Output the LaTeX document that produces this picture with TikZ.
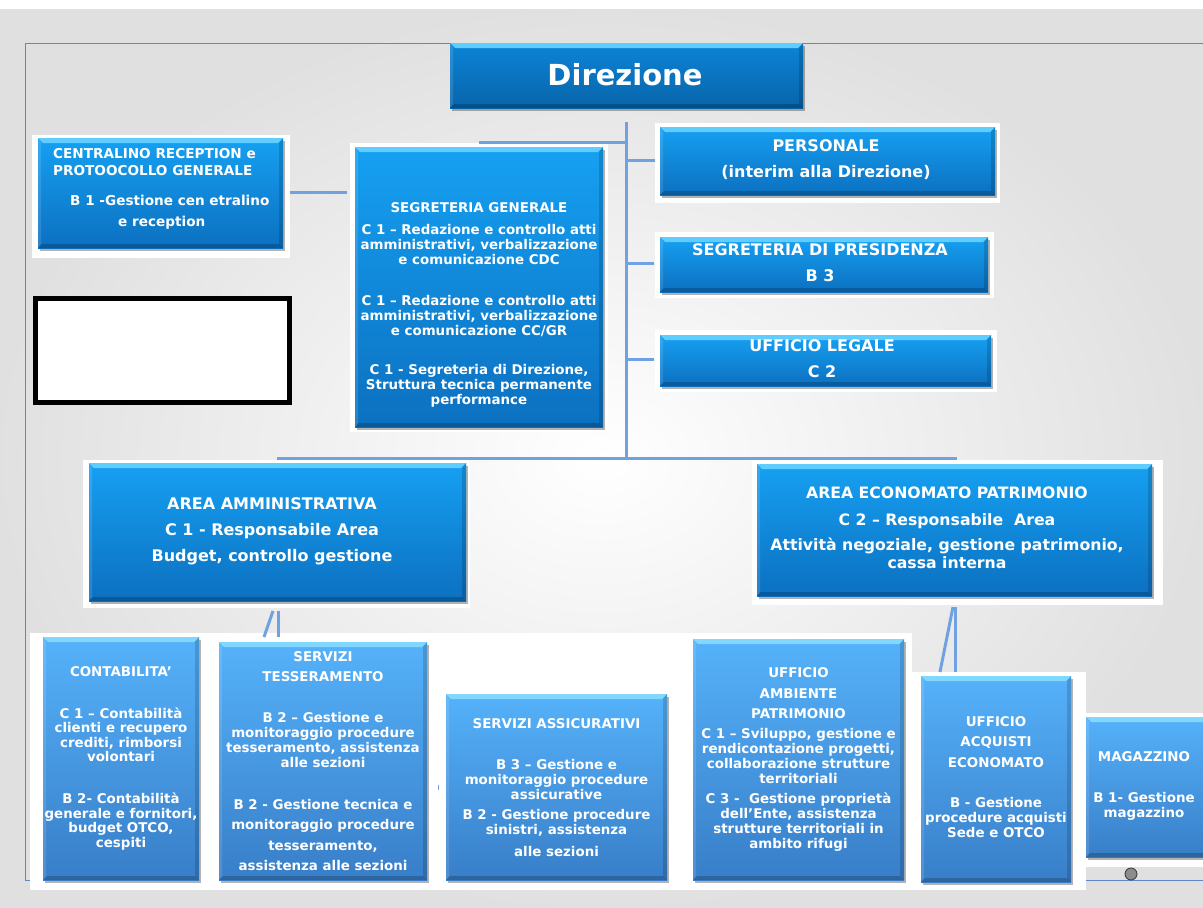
\documentclass[tikz,border=0pt]{standalone}
\usepackage{fontspec}
\setmainfont{DejaVu Sans}
\usetikzlibrary{shadows,calc}
\definecolor{upT}{RGB}{22,160,242}
\definecolor{upB}{RGB}{12,112,192}
\definecolor{upL}{RGB}{95,205,255}
\definecolor{loT}{RGB}{85,178,250}
\definecolor{loB}{RGB}{56,126,200}
\definecolor{loL}{RGB}{130,215,255}
\definecolor{dirT}{RGB}{12,132,215}
\definecolor{dirB}{RGB}{8,100,170}
\definecolor{connc}{RGB}{112,162,226}
\definecolor{framec}{RGB}{95,135,205}
\newcommand{\bevelpp}[1]{%
  \fill[#1] (path picture bounding box.north west) -- (path picture bounding box.north east) -- ([xshift=-5pt,yshift=-5pt]path picture bounding box.north east) -- ([xshift=5pt,yshift=-5pt]path picture bounding box.north west) -- cycle;
  \fill[black,opacity=.15] (path picture bounding box.north east) -- (path picture bounding box.south east) -- ([xshift=-4pt,yshift=4pt]path picture bounding box.south east) -- ([xshift=-4pt,yshift=-5pt]path picture bounding box.north east) -- cycle;
  \fill[black,opacity=.2] (path picture bounding box.south west) -- (path picture bounding box.south east) -- ([xshift=-4pt,yshift=4pt]path picture bounding box.south east) -- ([xshift=4pt,yshift=4pt]path picture bounding box.south west) -- cycle;
  \fill[white,opacity=.12] (path picture bounding box.north west) -- (path picture bounding box.south west) -- ([xshift=3pt,yshift=4pt]path picture bounding box.south west) -- ([xshift=3pt,yshift=-5pt]path picture bounding box.north west) -- cycle;}
\tikzset{
  x=1pt,y=-1pt,
  boxbase/.style={rectangle, inner sep=0pt, draw=none,
    drop shadow={shadow xshift=1.5pt, shadow yshift=-3pt, fill=black, opacity=.3}},
  upbox/.style={boxbase, top color=upT, bottom color=upB, path picture={\bevelpp{upL}}},
  lobox/.style={boxbase, top color=loT, bottom color=loB, path picture={\bevelpp{loL}}},
  dirbox/.style={boxbase, top color=dirT, bottom color=dirB, path picture={\bevelpp{upL}}},
  txt/.style={text=white, align=center, inner sep=0pt, font=\bfseries\fontsize{13.4}{15}\selectfont},
  bigtxt/.style={txt, font=\bfseries\fontsize{16}{26}\selectfont},
  conn/.style={draw=connc, line width=3pt},
  halo/.style={fill=white},
}
\begin{document}
\begin{tikzpicture}
\useasboundingbox (0,0) rectangle (1203,908);
% background
\fill[white] (0,0) rectangle (1203,908);
\shade[inner color=white, outer color=black!12] (0,9) rectangle (1203,908);
% frame
\draw[framec, line width=1pt] (1203,43) -- (25,43) -- (25,880) -- (1203,880);
% white halos
\fill[halo] (32,135) rectangle (290,258);
\fill[halo] (350,143) rectangle (608,432);
\fill[halo] (655,123) rectangle (1000,203);
\fill[halo] (655,232) rectangle (994,298);
\fill[halo] (655,330) rectangle (997,392);
\fill[halo] (83,460) rectangle (470,608);
\fill[halo] (752,460) rectangle (1163,605);
\fill[halo] (30,633) rectangle (912,890);
\fill[halo] (912,672) rectangle (1086,890);
\fill[halo] (1086,713) rectangle (1203,867);

% connector junctions
\coordinate (tt) at (626,122);
\coordinate (tb) at (626,458);
\coordinate (j1) at (626,142);
\coordinate (j2) at (626,160);
\coordinate (j3) at (626,263);
\coordinate (j4) at (626,359);
\coordinate (bl) at (277,458);
\coordinate (br) at (957,458);

% boxes
\node[dirbox, minimum width=353, minimum height=65] (dir) at (626.5,75.5) {};
\node[upbox, minimum width=245, minimum height=110] (centr) at (160.5,193) {};
\node[draw=black, line width=5pt, fill=white, minimum width=254, minimum height=104, inner sep=0pt] (blank) at (162.5,350.5) {};
\node[upbox, minimum width=248, minimum height=280] (segr) at (479,287) {};
\node[upbox, minimum width=335, minimum height=68] (pers) at (827.5,161) {};
\node[upbox, minimum width=328, minimum height=55] (pres) at (824,264.5) {};
\node[upbox, minimum width=331, minimum height=51] (leg) at (825.5,360.5) {};
\node[upbox, minimum width=377, minimum height=138] (aamm) at (277.5,532) {};
\node[upbox, minimum width=395, minimum height=132] (aeco) at (954.5,530) {};
\node[lobox, minimum width=156, minimum height=243] (cont) at (121,758.5) {};
\node[lobox, minimum width=208, minimum height=238] (tess) at (323,761) {};
\node[lobox, minimum width=221, minimum height=186] (assi) at (556.5,787) {};
\node[lobox, minimum width=211, minimum height=241] (ambi) at (798.5,759.5) {};
\node[lobox, minimum width=150, minimum height=206] (acqu) at (996,779) {};
\node[lobox, minimum width=124, minimum height=140] (maga) at (1148,787) {};

% connector lines
\draw[conn] (tt) -- (tb);
\draw[conn] (j1) -- (segr.north |- j1);
\draw[conn, shorten >=5pt] (j2) -- (pers.west |- j2);
\draw[conn, shorten >=6pt] (j3) -- (pres.west |- j3);
\draw[conn, shorten >=6pt] (j4) -- (leg.west |- j4);
\draw[conn] ([xshift=7pt]centr.east |- 0,192) -- ([xshift=-8pt]segr.west |- 0,192);
\draw[conn] (bl) -- (br);
\coordinate (a1) at (273,611); \coordinate (a2) at (264,637);
\coordinate (a3) at (278,611); \coordinate (a4) at (278,637);
\draw[conn] (a1) -- (a2);
\draw[conn] (a3) -- (a4);
\coordinate (e1) at (953,607); \coordinate (e2) at (940,672);
\coordinate (e3) at (955.5,607); \coordinate (e4) at (955.5,672);
\draw[conn] (e1) -- (e2);
\draw[conn] (e3) -- (e4);
\coordinate (tk1) at (438.5,785); \coordinate (tk2) at (438.5,790);
\draw[connc, line width=1pt] (tk1) -- (tk2);
\node[circle, draw=black!80, fill=black!45, line width=0.8pt, minimum size=12pt, inner sep=0pt] (dot) at (1131,874) {};

% texts
\node[txt, font=\bfseries\fontsize{29}{30}\selectfont] (dir-t) at (625,74.5) {Direzione};
\node[txt, align=left, anchor=west, font=\bfseries\fontsize{13.6}{17}\selectfont] (centr-t) at (53,189) {CENTRALINO RECEPTION e\\PROTOOCOLLO GENERALE\\[13pt]\hspace*{17pt}B 1 -Gestione cen etralino\\[4pt]\hspace*{65pt}e reception};
\node[txt] (segr-t) at (479,304.5) {SEGRETERIA GENERALE\\[7pt]C 1 – Redazione e controllo atti\\amministrativi, verbalizzazione\\e comunicazione CDC\\[26pt]C 1 – Redazione e controllo atti\\amministrativi, verbalizzazione\\e comunicazione CC/GR\\[24pt]C 1 - Segreteria di Direzione,\\Struttura tecnica permanente\\performance};
\node[bigtxt] (pers-t) at (826,160) {PERSONALE\\(interim alla Direzione)};
\node[bigtxt] (pres-t) at (820,263) {SEGRETERIA DI PRESIDENZA\\B 3};
\node[bigtxt] (leg-t) at (822,359) {UFFICIO LEGALE\\C 2};
\node[bigtxt] (aamm-t) at (272,531) {AREA AMMINISTRATIVA\\C 1 - Responsabile Area\\Budget, controllo gestione};
\node[bigtxt, font=\bfseries\fontsize{15.7}{18.5}\selectfont] (aeco-t) at (947,528) {AREA ECONOMATO PATRIMONIO\\[8pt]C 2 – Responsabile\ \ Area\\[6.5pt]Attività negoziale, gestione patrimonio,\\cassa interna};
\node[txt, font=\bfseries\fontsize{13.4}{14.5}\selectfont] (cont-t) at (121,758) {CONTABILITA’\\[27.5pt]C 1 – Contabilità\\clienti e recupero\\crediti, rimborsi\\volontari\\[27.5pt]B 2- Contabilità\\generale e fornitori,\\budget OTCO,\\cespiti};
\node[txt] (tess-t) at (323,761) {SERVIZI\\[5pt]TESSERAMENTO\\[26pt]B 2 – Gestione e\\monitoraggio procedure\\tesseramento, assistenza\\alle sezioni\\[27pt]B 2 - Gestione tecnica e\\[5pt]monitoraggio procedure\\[6pt]tesseramento,\\[5pt]assistenza alle sezioni};
\node[txt] (assi-t) at (556.5,788) {SERVIZI ASSICURATIVI\\[26pt]B 3 – Gestione e\\monitoraggio procedure\\assicurative\\[5pt]B 2 - Gestione procedure\\sinistri, assistenza\\[7pt]alle sezioni};
\node[txt] (ambi-t) at (798.5,759.5) {UFFICIO\\[6pt]AMBIENTE\\[5pt]PATRIMONIO\\[5pt]C 1 – Sviluppo, gestione e\\rendicontazione progetti,\\collaborazione strutture\\territoriali\\[5pt]C 3 -\ \ Gestione proprietà\\dell’Ente, assistenza\\strutture territoriali in\\ambito rifugi};
\node[txt] (acqu-t) at (996,777.5) {UFFICIO\\[5pt]ACQUISTI\\[6pt]ECONOMATO\\[25pt]B - Gestione\\procedure acquisti\\Sede e OTCO};
\node[txt] (maga-t) at (1144,786) {MAGAZZINO\\[26pt]B 1- Gestione\\magazzino};
\end{tikzpicture}
\end{document}
